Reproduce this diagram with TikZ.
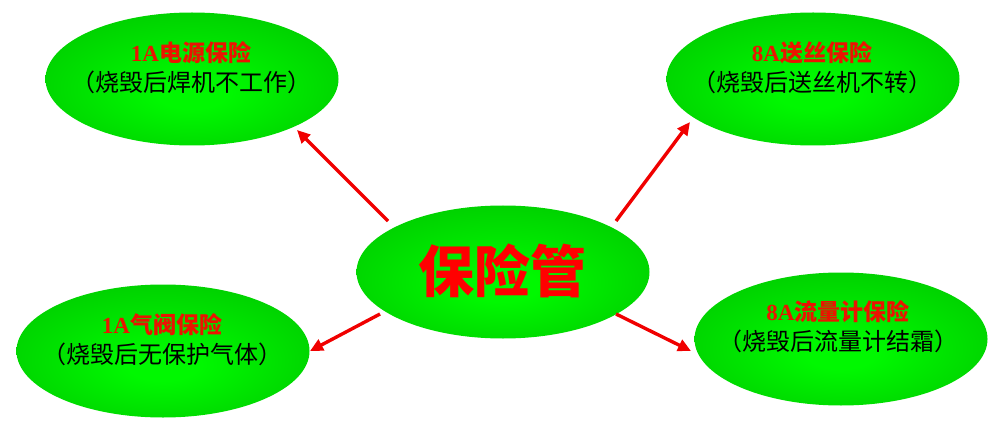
\documentclass[tikz,border=0pt]{standalone}
\usepackage{fontspec}
\usetikzlibrary{shapes.geometric,arrows.meta}
\newfontfamily\cjk{Noto Sans CJK SC}
\newfontfamily\lserif{Liberation Serif}
\definecolor{gin}{RGB}{0,248,0}
\definecolor{gout}{RGB}{0,172,0}
\definecolor{tred}{RGB}{235,20,0}
\definecolor{ared}{RGB}{240,0,0}
\pgfdeclareradialshading{bubble}{\pgfpoint{0bp}{-6bp}}{color(0bp)=(gin); color(6bp)=(gin); color(50bp)=(gout)}
\tikzset{
  bub/.style={ellipse, shade, shading=bubble, draw=none, inner sep=0pt,
    minimum width=293pt, minimum height=133pt},
  txt/.style={align=center, inner sep=0pt, font=\cjk\fontsize{24}{30}\selectfont},
  big/.style={inner sep=0pt, text=red, font=\cjk\bfseries\fontsize{56}{60}\selectfont},
  conn/.style={draw=ared, line width=3.4pt, -{Triangle[length=13pt,width=12pt]}}
}
\newcommand{\hdline}[2]{{\color{tred}\bfseries\fontsize{23}{30}\selectfont{\lserif\bfseries #1}#2}}
\begin{document}
\begin{tikzpicture}[x=1pt,y=-1pt]
\useasboundingbox (0,0) rectangle (990,422);
% ellipses
\node[bub] (c)  at (503,272) {};
\node[bub] (tl) at (192,79) {};
\node[bub] (tr) at (813,79) {};
\node[bub] (bl) at (163,351) {};
\node[bub] (br) at (841,339) {};
% texts
\node[big] (ct) at (502,271) {保险管};
\node[txt] (tlt) at (191,68) {\hdline{1A}{电源保险}\\（烧毁后焊机不工作）};
\node[txt] (trt) at (812,68) {\hdline{8A}{送丝保险}\\（烧毁后送丝机不转）};
\node[txt] (blt) at (162,340) {\hdline{1A}{气阀保险}\\（烧毁后无保护气体）};
\node[txt] (brt) at (838,327) {\hdline{8A}{流量计保险}\\（烧毁后流量计结霜）};
% connector end points
\coordinate (s1) at (388,221);
\coordinate (e1) at (297,130);
\coordinate (s2) at (616,221);
\coordinate (e2) at (690,122);
\coordinate (s3) at (380,314);
\coordinate (e3) at (310,351);
\coordinate (s4) at (616,314);
\coordinate (e4) at (691,351);
\draw[conn] (s1) -- (e1);
\draw[conn] (s2) -- (e2);
\draw[conn] (s3) -- (e3);
\draw[conn] (s4) -- (e4);
\end{tikzpicture}
\end{document}
